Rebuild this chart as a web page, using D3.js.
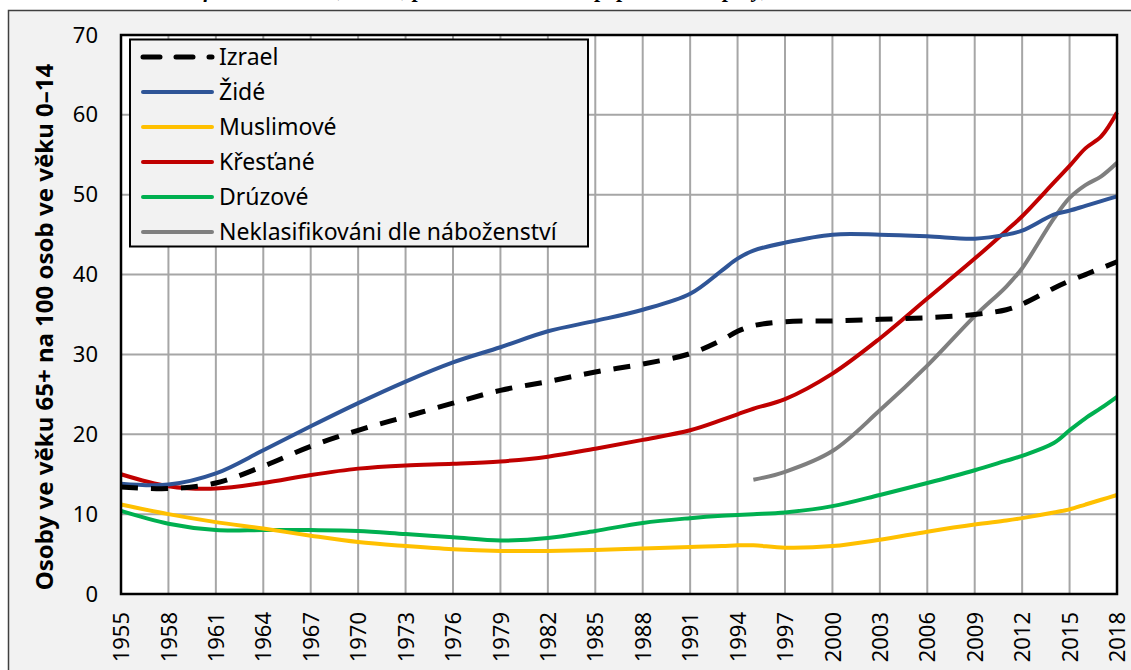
<!DOCTYPE html>
<meta charset="utf-8">
<head>
<style>
  * { margin: 0; padding: 0; }
  body { background: #fff; width: 1131px; height: 670px; overflow: hidden; }
  svg { display: block; font-family: "Noto Sans", "Open Sans", sans-serif; }
</style>
</head>
<body>
<svg id="chart" width="1131" height="670"></svg>
<script src="https://cdn.jsdelivr.net/npm/d3@7"></script>
<script>
// data
var years = [1955,1958,1961,1964,1967,1970,1973,1976,1979,1982,1985,1988,1991,1993,1994,1995,
             1997,2000,2003,2006,2009,2011,2012,2014,2015,2016,2017,2018];

var izrael = [13.4,13.2,13.9,16.0,18.5,20.5,22.2,23.9,25.5,26.6,27.8,28.8,30.1,31.8,32.9,33.6,
              34.1,34.2,34.4,34.6,35.0,35.6,36.3,38.3,39.2,40.0,40.8,41.6];
var zide = [13.8,13.7,15.1,18.0,21.0,23.9,26.6,29.0,30.9,32.9,34.2,35.6,37.6,40.5,42.0,43.0,
            44.0,45.0,45.0,44.8,44.5,45.0,45.5,47.5,48.0,48.6,49.2,49.8];
var muslimove = [11.2,10.0,9.0,8.2,7.3,6.5,6.0,5.6,5.4,5.4,5.5,5.7,5.9,6.0,6.1,6.1,
                 5.8,6.0,6.8,7.8,8.7,9.2,9.5,10.2,10.6,11.2,11.8,12.4];
var krestane = [15.0,13.5,13.2,13.9,14.9,15.7,16.1,16.3,16.6,17.2,18.2,19.3,20.5,21.8,22.5,23.2,
                24.4,27.6,32.0,37.0,42.0,45.5,47.3,51.5,53.6,55.8,57.3,60.3];
var druzove = [10.4,8.8,8.0,8.0,8.0,7.9,7.5,7.1,6.7,7.0,7.9,8.9,9.5,9.8,9.9,10.0,
               10.2,11.0,12.4,13.9,15.5,16.7,17.3,18.9,20.5,22.0,23.3,24.7];
var neklas = [null,null,null,null,null,null,null,null,null,null,null,null,null,null,null,14.3,
              15.3,17.9,23.0,28.6,34.8,38.5,40.8,47.0,49.6,51.2,52.3,54.0];

var seriesNames = ["Izrael","Židé","Muslimové","Křesťané","Drúzové","Neklasifikováni dle náboženství"];
var seriesColors = ["#000000","#2f5597","#ffc000","#c00000","#00b050","#7f7f7f"];
var seriesValues = [izrael, zide, muslimove, krestane, druzove, neklas];

var tickYears = d3.range(1955, 2019, 3);
var yTicks = d3.range(0, 71, 10);

var svg = d3.select("#chart");

// outer frame (chart area)
svg.append("rect")
    .attr("x", 8.5).attr("y", 10.5)
    .attr("width", 1140).attr("height", 680)
    .attr("fill", "#f2f2f2")
    .attr("stroke", "#404040")
    .attr("stroke-width", 1.5);

// title, cut off by the top of the picture (only descenders show)
svg.append("text")
    .attr("x", 520).attr("y", -3)
    .attr("text-anchor", "middle")
    .style("font-family", "'Liberation Serif', serif")
    .style("font-style", "italic")
    .style("font-weight", "bold")
    .style("font-size", "22px")
    .text("Graf 4: Index stáří, Izrael, podle náboženství a populační skupiny, 1955–2018");

var pLeft = 121, pRight = 1117, pTop = 35, pBottom = 594;

var x = d3.scaleLinear().domain([1955, 2018]).range([pLeft, pRight]);
var y = d3.scaleLinear().domain([0, 70]).range([pBottom, pTop]);

svg.append("rect")
    .attr("x", pLeft).attr("y", pTop)
    .attr("width", pRight - pLeft).attr("height", pBottom - pTop)
    .attr("fill", "#fff");

// grid
svg.append("g")
    .selectAll("line")
    .data(tickYears.slice(1, -1))
    .enter().append("line")
    .attr("x1", function(d) { return x(d); })
    .attr("x2", function(d) { return x(d); })
    .attr("y1", pTop).attr("y2", pBottom)
    .attr("stroke", "#a6a6a6").attr("stroke-width", 2);

svg.append("g")
    .selectAll("line")
    .data(yTicks.slice(1, -1))
    .enter().append("line")
    .attr("x1", pLeft).attr("x2", pRight)
    .attr("y1", function(d) { return y(d); })
    .attr("y2", function(d) { return y(d); })
    .attr("stroke", "#a6a6a6").attr("stroke-width", 2);

// axes
var yAxis = svg.append("g")
    .attr("transform", "translate(" + pLeft + ",0)")
    .call(d3.axisLeft(y).tickValues(yTicks).tickSize(0).tickPadding(23));
yAxis.select(".domain").remove();
yAxis.selectAll("text")
    .style("font-size", "22px")
    .style("font-family", "'Noto Sans', sans-serif")
    .attr("fill", "#000");

var xAxis = svg.append("g")
    .attr("transform", "translate(0," + pBottom + ")")
    .call(d3.axisBottom(x).tickValues(tickYears).tickFormat(d3.format("d")).tickSize(0));
xAxis.select(".domain").remove();
xAxis.selectAll("text")
    .style("font-size", "22px")
    .style("font-family", "'Noto Sans', sans-serif")
    .attr("fill", "#000")
    .attr("transform", "rotate(-90)")
    .attr("x", -18).attr("y", 0).attr("dy", "0.35em")
    .attr("text-anchor", "end");

svg.append("text")
    .attr("transform", "translate(45,327) rotate(-90)")
    .attr("text-anchor", "middle")
    .attr("dy", "0.35em")
    .style("font-size", "24px")
    .style("font-weight", "bold")
    .text("Osoby ve věku 65+ na 100 osob ve věku 0–14");

// lines
var line = d3.line()
    .defined(function(d) { return d[1] != null; })
    .x(function(d) { return x(d[0]); })
    .y(function(d) { return y(d[1]); })
    .curve(d3.curveCatmullRom.alpha(0.5));

// draw order: gray, green, yellow, red, blue, dashed on top
var order = [5, 4, 2, 3, 1, 0];
order.forEach(function(i) {
    var pts = years.map(function(yr, j) { return [yr, seriesValues[i][j]]; });
    svg.append("path")
        .datum(pts)
        .attr("d", line)
        .attr("fill", "none")
        .attr("stroke", seriesColors[i])
        .attr("stroke-width", i == 0 ? 5 : 4)
        .attr("stroke-dasharray", i == 0 ? "17,13" : null)
        .attr("stroke-linejoin", "round");
});

// plot border
svg.append("rect")
    .attr("x", pLeft).attr("y", pTop)
    .attr("width", pRight - pLeft).attr("height", pBottom - pTop)
    .attr("fill", "none")
    .attr("stroke", "#000").attr("stroke-width", 2.5);

// legend
var lg = svg.append("g");
lg.append("rect")
    .attr("x", 130).attr("y", 39.5)
    .attr("width", 458).attr("height", 207)
    .attr("fill", "#f2f2f2")
    .attr("stroke", "#000").attr("stroke-width", 2);

var item = lg.selectAll("g.item")
    .data(seriesNames)
    .enter().append("g")
    .attr("class", "item")
    .attr("transform", function(d, i) { return "translate(0," + (57 + i * 35) + ")"; });

item.append("line")
    .attr("x1", 143)
    .attr("x2", 212)
    .attr("stroke", function(d, i) { return seriesColors[i]; })
    .attr("stroke-width", function(d, i) { return i == 0 ? 5 : 4; })
    .attr("stroke-dasharray", function(d, i) { return i == 0 ? "17,16" : null; })
    .attr("stroke-linecap", "round");

item.append("text")
    .attr("x", 219)
    .attr("dy", "0.35em")
    .style("font-size", "23px")
    .text(function(d) { return d; });
</script>
</body>
